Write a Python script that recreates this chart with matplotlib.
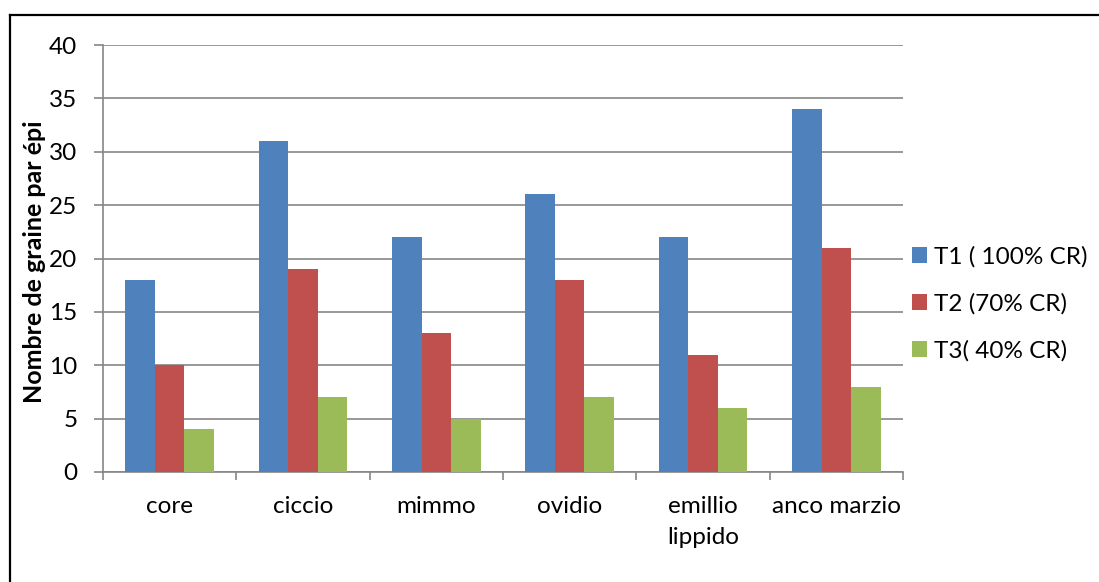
import numpy as np
import matplotlib
matplotlib.use("Agg")
import matplotlib.pyplot as plt
from matplotlib.lines import Line2D
from matplotlib.patches import Patch

# Grain count per ear for each variety under three irrigation regimes
categories = ["core", "ciccio", "mimmo", "ovidio", "emillio\nlippido", "anco marzio"]
t1_values = [18, 31, 22, 26, 22, 34]
t2_values = [10, 19, 13, 18, 11, 21]
t3_values = [4, 7, 5, 7, 6, 8]
series_labels = ["T1 ( 100% CR)", "T2 (70% CR)", "T3( 40% CR)"]
series_colors = ["#4F81BD", "#C0504D", "#9BBB59"]
y_ticks = [0, 5, 10, 15, 20, 25, 30, 35, 40]
y_label = "Nombre de graine par épi"

plt.rcParams["font.family"] = ["Lato", "DejaVu Sans"]
FS = 17.5

W, H = 1099, 582
fig = plt.figure(figsize=(W / 100, H / 100), dpi=100)
ax = fig.add_axes([103 / W, 1 - 472 / H, 800 / W, 427 / H])

n = len(categories)
x = np.arange(n)
bar_w = 1 / 4.5  # gap width 150 %
all_series = [t1_values, t2_values, t3_values]
for i, (vals, col, lab) in enumerate(zip(all_series, series_colors, series_labels)):
    ax.bar(x + (i - 1) * bar_w, vals, width=bar_w, color=col, label=lab,
           zorder=3, linewidth=0)

ax.set_xlim(-0.5, n - 0.5)
ax.set_ylim(0, 40)
ax.set_yticks(y_ticks)
ax.set_yticklabels([str(v) for v in y_ticks], fontsize=FS)
ax.yaxis.grid(True, color="#868686", linewidth=1.2, zorder=0)
ax.set_axisbelow(True)

# Category ticks sit on the boundaries between groups
ax.set_xticks(np.arange(n + 1) - 0.5)
ax.set_xticklabels([])
ax.set_xticks(x, minor=True)
ax.set_xticklabels(categories, minor=True, fontsize=FS, linespacing=1.6, va="top")
ax.tick_params(axis="x", which="minor", length=0, pad=17)
ax.tick_params(axis="x", which="major", length=6, width=1.2, color="#868686", direction="out")
ax.tick_params(axis="y", length=6.5, width=1.2, color="#868686", direction="out", pad=12)

for side in ("top", "right"):
    ax.spines[side].set_visible(False)
for side in ("left", "bottom"):
    ax.spines[side].set_color("#868686")
    ax.spines[side].set_linewidth(1.2)

ax.set_ylabel(y_label, fontsize=18, fontweight="bold")
ax.yaxis.set_label_coords(-57 / 800, 0.492)

handles = [Patch(facecolor=c, edgecolor="none") for c in series_colors]
fig.legend(handles, series_labels, loc="center left",
           bbox_to_anchor=(912 / W, 1 - 304 / H), frameon=False, fontsize=FS,
           handlelength=0.62, handleheight=0.62, handletextpad=0.3,
           labelspacing=1.05, borderaxespad=0, borderpad=0)

# Outer frame (top and left edges)
fig.add_artist(Line2D([10 / W, 10 / W], [0, 1 - 15 / H], color="black", lw=1.6,
                      transform=fig.transFigure))
fig.add_artist(Line2D([10 / W, 1], [1 - 15 / H, 1 - 15 / H], color="black", lw=1.6,
                      transform=fig.transFigure))

fig.savefig("out.png", dpi=100, facecolor="white")
